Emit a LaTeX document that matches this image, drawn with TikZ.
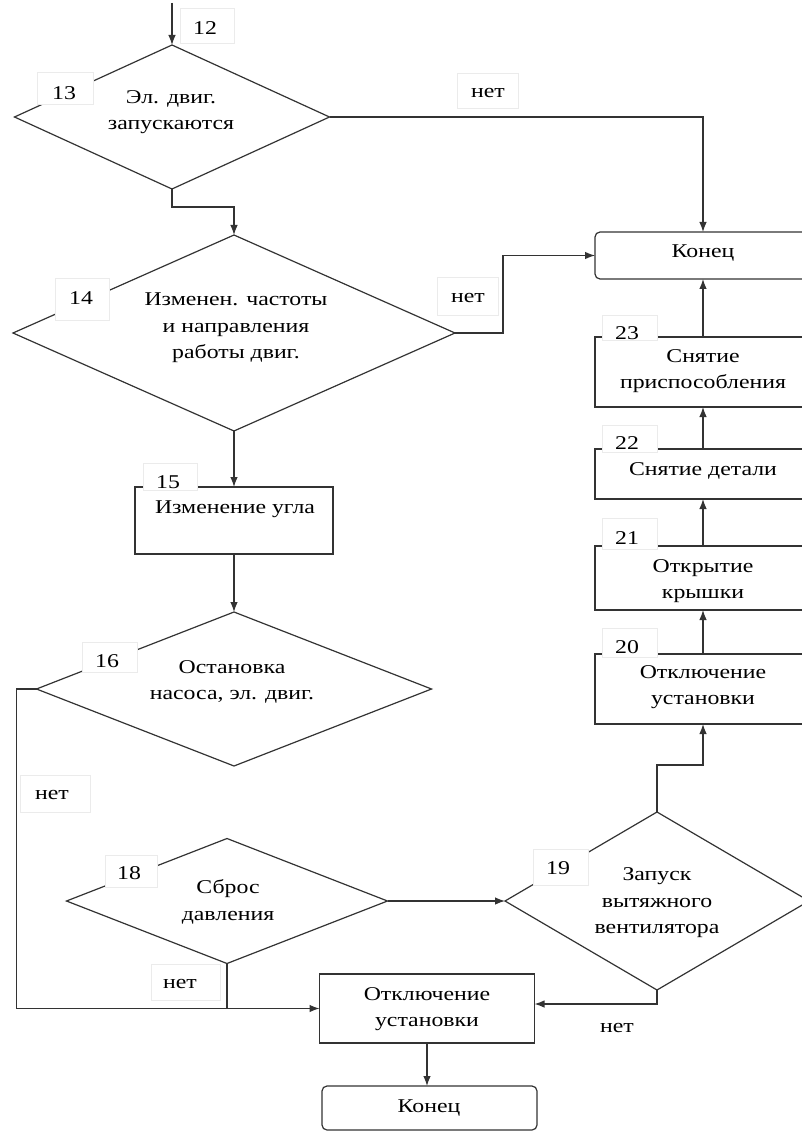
\documentclass[tikz,border=0pt]{standalone}
\usepackage{fontspec}
\setmainfont{Liberation Serif}[FakeStretch=1.22]
\usetikzlibrary{shapes.geometric,arrows.meta}
\begin{document}
\begin{tikzpicture}[x=1pt,y=-1pt,
  every node/.style={font=\fontsize{19.5}{26.5}\selectfont, inner sep=0pt, outer sep=0pt, text=black},
  ln/.style={draw=black!80, line width=1.2pt},
  arr/.style={ln, -{Latex[length=10pt,width=7.5pt]}},
  dia/.style={diamond, ln, fill=white, inner sep=0pt, outer sep=0pt},
  box/.style={rectangle, ln, fill=white},
  tagbox/.style={fill=white, draw=black!8, line width=0.8pt},
  txt/.style={align=center}
]
\clip (0,0) rectangle (802,1131);
\fill[white] (0,0) rectangle (802,1131);

% shapes
\node[dia, minimum width=315pt, minimum height=144pt] (d13) at (172,117) {};
\node[dia, minimum width=442pt, minimum height=196pt] (d14) at (234,333) {};
\node[box, minimum width=198pt, minimum height=67pt] (b15) at (234,520.5) {};
\node[dia, minimum width=395pt, minimum height=154pt] (d16) at (234,689) {};
\node[dia, minimum width=321pt, minimum height=125pt] (d18) at (227,901) {};
\node[dia, minimum width=304pt, minimum height=178pt] (d19) at (657,901) {};
\node[box, minimum width=216pt, minimum height=70pt] (b20) at (703,689) {};
\node[box, minimum width=216pt, minimum height=64pt] (b21) at (703,578) {};
\node[box, minimum width=216pt, minimum height=50pt] (b22) at (703,474) {};
\node[box, minimum width=216pt, minimum height=70pt] (b23) at (703,372) {};
\node[box, rounded corners=5pt, minimum width=216pt, minimum height=47pt] (e1) at (703,255.5) {};
\node[box, minimum width=215pt, minimum height=69pt] (b24) at (427,1008.5) {};
\node[box, rounded corners=5pt, minimum width=215pt, minimum height=44pt] (e2) at (429.5,1108) {};

% connectors
\coordinate (start) at (172,3);
\draw[arr] (start) -- (d13.north);
\draw[arr] (d13.east) -| (e1.north);
\draw[arr] (d13.south) -- ++(0,18) -| (d14.north);
\draw[arr] (d14.east) -- ++(48,0) |- (e1.west);
\draw[arr] (d14.south) -- (b15.north);
\draw[arr] (b15.south) -- (d16.north);
\draw[arr] (d16.west) -- ++(-20,0) |- (b24.west);
\draw[ln] (d18.south) -- (d18.south |- b24.west);
\draw[arr] (d18.east) -- (d19.west);
\draw[arr] (d19.south) |- ([yshift=4.5pt]b24.east);
\draw[arr] (d19.north) -- ++(0,-47) -| (b20.south);
\draw[arr] (b20.north) -- (b21.south);
\draw[arr] (b21.north) -- (b22.south);
\draw[arr] (b22.north) -- (b23.south);
\draw[arr] (b23.north) -- (e1.south);
\draw[arr] (b24.south) -- (b24.south |- e2.north);

% label tabs
\path[tagbox] (180,8) rectangle (234,43);
\path[tagbox] (37,72) rectangle (93,104);
\path[tagbox] (457,73) rectangle (518,108);
\path[tagbox] (55,278) rectangle (109,320);
\path[tagbox] (437,277) rectangle (498,315);
\path[tagbox] (143,463) rectangle (197,490);
\path[tagbox] (82,642) rectangle (137,672);
\path[tagbox] (20,775) rectangle (90,812);
\path[tagbox] (105,855) rectangle (157,887);
\path[tagbox] (151,964) rectangle (220,1000);
\path[tagbox] (533,849) rectangle (588,885);
\path[tagbox] (602,628) rectangle (657,657);
\path[tagbox] (602,518) rectangle (657,549);
\path[tagbox] (602,425) rectangle (657,452);
\path[tagbox] (602,315) rectangle (657,340);

% label texts
\node (n12) at (205,28) {12};
\node (n13) at (64,93) {13};
\node (no1) at (488,93) {нет};
\node (n14) at (81,298) {14};
\node (no2) at (468,298) {нет};
\node (n15) at (168,482) {15};
\node (n16) at (107,661) {16};
\node (no3) at (52,795) {нет};
\node (n18) at (129,873) {18};
\node (no4) at (180,984) {нет};
\node (n19) at (558,868) {19};
\node (no5) at (617,1028) {нет};
\node (n20) at (627,647) {20};
\node (n21) at (627,538) {21};
\node (n22) at (627,443) {22};
\node (n23) at (627,333) {23};

% main texts
\node[txt] (t13) at (171,112) {Эл. двиг.\\запускаются};
\node[txt] (t14) at (236,328) {Изменен. частоты\\и направления\\работы двиг.};
\node[txt] (t15) at (235,509) {Изменение угла};
\node[txt] (t16) at (232,682) {Остановка\\насоса, эл. двиг.};
\node[txt] (t18) at (228,902) {Сброс\\давления};
\node[txt] (t19) at (657,903) {Запуск\\вытяжного\\вентилятора};
\node[txt] (t20) at (703,687) {Отключение\\установки};
\node[txt] (t21) at (703,581) {Открытие\\крышки};
\node[txt] (t22) at (703,471) {Снятие детали};
\node[txt] (t23) at (703,371) {Снятие\\приспособления};
\node[txt] (te1) at (703,253) {Конец};
\node[txt] (t24) at (427,1009) {Отключение\\установки};
\node[txt] (te2) at (429,1108) {Конец};
\end{tikzpicture}
\end{document}
